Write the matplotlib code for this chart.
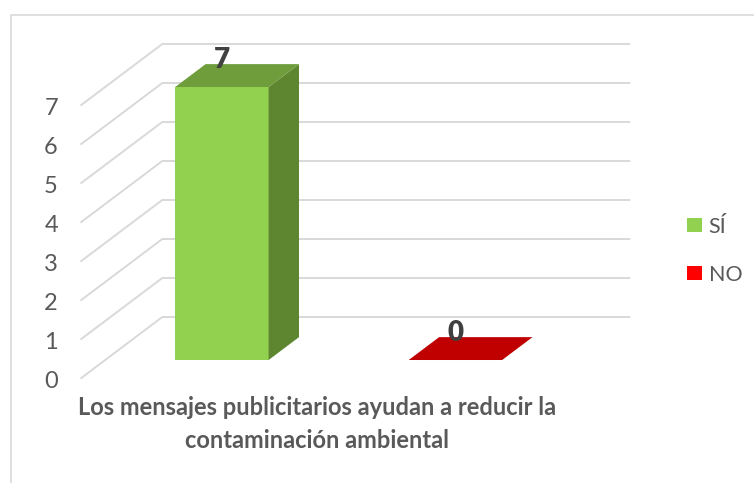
import matplotlib
matplotlib.use("Agg")
import matplotlib.pyplot as plt
from matplotlib.patches import Polygon, Patch
from matplotlib.lines import Line2D

# chart data
categories = ["SÍ", "NO"]
values = [7, 0]
y_ticks = [0, 1, 2, 3, 4, 5, 6, 7]
axis_title = ["Los mensajes publicitarios ayudan a reducir la",
              "contaminación ambiental"]

front_colors = ["#92D050", "#C00000"]
top_colors = ["#6F9D3B", "#C00000"]
side_colors = ["#5E8631", "#A00000"]
legend_colors = ["#92D050", "#FF0000"]

GRID = "#D9D9D9"
TEXT = "#595959"

# fake 3D: a point at depth z (0 = front, 1 = back wall) shifts by z*(DX, DY)
DX, DY = 0.347, 1.564
Z0, Z1 = 0.295, 0.67
BAR_W = 0.4
X_LO, X_HI = -0.5, 1.5


def proj(x, y, z):
    return (x + z * DX, y + z * DY)


plt.rcParams["font.family"] = ["Lato", "DejaVu Sans"]

fig = plt.figure(figsize=(7.54, 4.83), dpi=100)
ax = fig.add_axes([0, 0, 1, 1])
ax.set_xlim(-0.848, 2.381)
ax.set_ylim(-2.692, 9.692)
ax.axis("off")

# floor/wall grid and value labels
for v in y_ticks:
    pts = [proj(X_LO, v, 0), proj(X_LO, v, 1), proj(X_HI, v, 1)]
    xs, ys = zip(*pts)
    ax.plot(xs, ys, color=GRID, lw=1.4, zorder=1)
    ax.text(X_LO - 0.1, v - 0.08, str(v), ha="right", va="center",
            fontsize=17, color=TEXT)

# bars
for i, v in enumerate(values):
    xl, xr = i - BAR_W / 2, i + BAR_W / 2
    front = [proj(xl, 0, Z0), proj(xr, 0, Z0), proj(xr, v, Z0), proj(xl, v, Z0)]
    side = [proj(xr, 0, Z0), proj(xr, 0, Z1), proj(xr, v, Z1), proj(xr, v, Z0)]
    top = [proj(xl, v, Z0), proj(xr, v, Z0), proj(xr, v, Z1), proj(xl, v, Z1)]
    if v > 0:
        ax.add_patch(Polygon(front, closed=True, fc=front_colors[i], ec="none", zorder=3))
        ax.add_patch(Polygon(side, closed=True, fc=side_colors[i], ec="none", zorder=3))
    ax.add_patch(Polygon(top, closed=True, fc=top_colors[i], ec="none", zorder=3))
    lx, ly = proj(i, v, Z1)
    ax.text(proj(i, v, Z0)[0], ly + 0.1, str(v), ha="center", va="center",
            fontsize=20, fontweight="heavy", color="#404040", zorder=5)

# category axis title
for k, line in enumerate(axis_title):
    ax.text(0.51, -0.95 - k * 0.85, line, ha="center", va="baseline",
            fontsize=17, fontweight="bold", color=TEXT)

handles = [Patch(facecolor=c, edgecolor="none") for c in legend_colors]
ax.legend(handles, categories, loc="center left", bbox_to_anchor=(687 / 754, 1 - 251 / 483),
          frameon=False, fontsize=15.5, labelcolor=TEXT, handlelength=0.7,
          handleheight=0.62, handletextpad=0.3, labelspacing=1.3,
          borderpad=0, borderaxespad=0)

# chart area border (left and top edges)
fig.add_artist(Line2D([11 / 754, 11 / 754, 1], [0, 1 - 15 / 483, 1 - 15 / 483],
                      transform=fig.transFigure, color=GRID, lw=1.2))

fig.savefig("out.png", dpi=100)
